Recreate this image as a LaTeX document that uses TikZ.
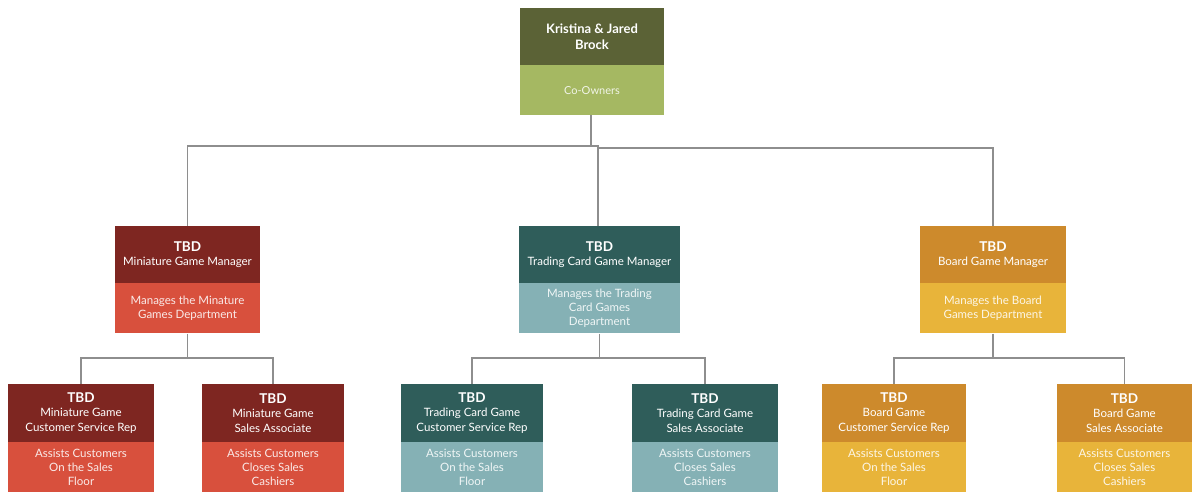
\documentclass[tikz,border=0pt]{standalone}
\usepackage{fontspec}
\setmainfont{Lato}
\definecolor{oliveD}{HTML}{5B6236}
\definecolor{oliveL}{HTML}{A5B862}
\definecolor{redD}{HTML}{7E2621}
\definecolor{redL}{HTML}{D8503D}
\definecolor{tealD}{HTML}{2F5D5A}
\definecolor{tealL}{HTML}{85B1B5}
\definecolor{goldD}{HTML}{CD8A2C}
\definecolor{goldL}{HTML}{E8B43A}
\definecolor{linegray}{HTML}{8E8E8E}
\tikzset{
  headbox/.style={rectangle, inner sep=0pt, align=center, text=white,
    font=\fontsize{11.5}{14.5}\selectfont},
  bodybox/.style={rectangle, inner sep=0pt, align=center, anchor=north,
    font=\fontsize{11.5}{14}\selectfont},
  conn/.style={draw=linegray, line width=1.8pt},
  topfont/.style={font=\fontsize{13}{16}\selectfont\bfseries}
}
% name, cx, top, width, headh, bodyh, family, headtext, bodytext
\newcommand\orgbox[9]{%
  \node[headbox, fill=#7D, minimum width=#4, minimum height=#5] (#1-h) at (#2,{#3+#5/2}) {#8};
  \node[bodybox, fill=#7L, text=white!88!#7L, minimum width=#4, minimum height=#6] (#1-b) at (#1-h.south) {#9};
}
\newcommand\tbd{{\fontsize{13.5}{15.5}\selectfont\bfseries TBD}}
\begin{document}
\begin{tikzpicture}[x=1pt,y=-1pt]
\useasboundingbox (0,0) rectangle (1195,491);
\clip (0,0) rectangle (1195,491);
\fill[white] (0,0) rectangle (1195,491);
% top
\node[headbox, topfont, fill=oliveD, minimum width=144, minimum height=57] (top-h) at (592,36.5) {Kristina \& Jared\\Brock};
\node[bodybox, fill=oliveL, text=white!85!oliveL, minimum width=144, minimum height=50, font=\fontsize{11}{14}\selectfont] (top-b) at (top-h.south) {Co-Owners};
% managers
\orgbox{ml}{187.5}{226}{145}{57}{50}{red}{\tbd\\Miniature Game Manager}{Manages the Minature\\Games Department}
\orgbox{mm}{599.5}{226}{161}{57}{50}{teal}{\tbd\\Trading Card Game Manager}{Manages the Trading\\Card Games\\Department}
\orgbox{mr}{993}{226}{146}{57}{50}{gold}{\tbd\\Board Game Manager}{Manages the Board\\Games Department}
% staff
\orgbox{s1}{81}{384}{146}{58}{50}{red}{\tbd\\Miniature Game\\Customer Service Rep}{Assists Customers\\On the Sales\\Floor}
\orgbox{s2}{273}{384}{142}{58}{50}{red}{\tbd\\Miniature Game\\Sales Associate}{Assists Customers\\Closes Sales\\Cashiers}
\orgbox{s3}{472}{384}{142}{58}{50}{teal}{\tbd\\Trading Card Game\\Customer Service Rep}{Assists Customers\\On the Sales\\Floor}
\orgbox{s4}{705}{384}{146}{58}{50}{teal}{\tbd\\Trading Card Game\\Sales Associate}{Assists Customers\\Closes Sales\\Cashiers}
\orgbox{s5}{894}{384}{144}{58}{50}{gold}{\tbd\\Board Game\\Customer Service Rep}{Assists Customers\\On the Sales\\Floor}
\orgbox{s6}{1124.5}{384}{135}{58}{50}{gold}{\tbd\\Board Game\\Sales Associate}{Assists Customers\\Closes Sales\\Cashiers}
% connectors
\coordinate (j1) at (591,146);
\coordinate (j2) at (598,148);
\draw[conn] (591,115) -- (j1) -| (ml-h.north);
\draw[conn] (j1) -- (598,146) -- (598,226);
\draw[conn] (j2) -| (mr-h.north);
\coordinate (b1) at (187.5,358);
\coordinate (b2) at (599.5,358);
\coordinate (b3) at (993,358);
\draw[conn] (ml-b.south) -- (b1);
\draw[conn] (s1-h.north) |- (b1) -| (s2-h.north);
\draw[conn] (mm-b.south) -- (b2);
\draw[conn] (s3-h.north) |- (b2) -| (s4-h.north);
\draw[conn] (mr-b.south) -- (b3);
\draw[conn] (s5-h.north) |- (b3) -| (s6-h.north);
\end{tikzpicture}
\end{document}
